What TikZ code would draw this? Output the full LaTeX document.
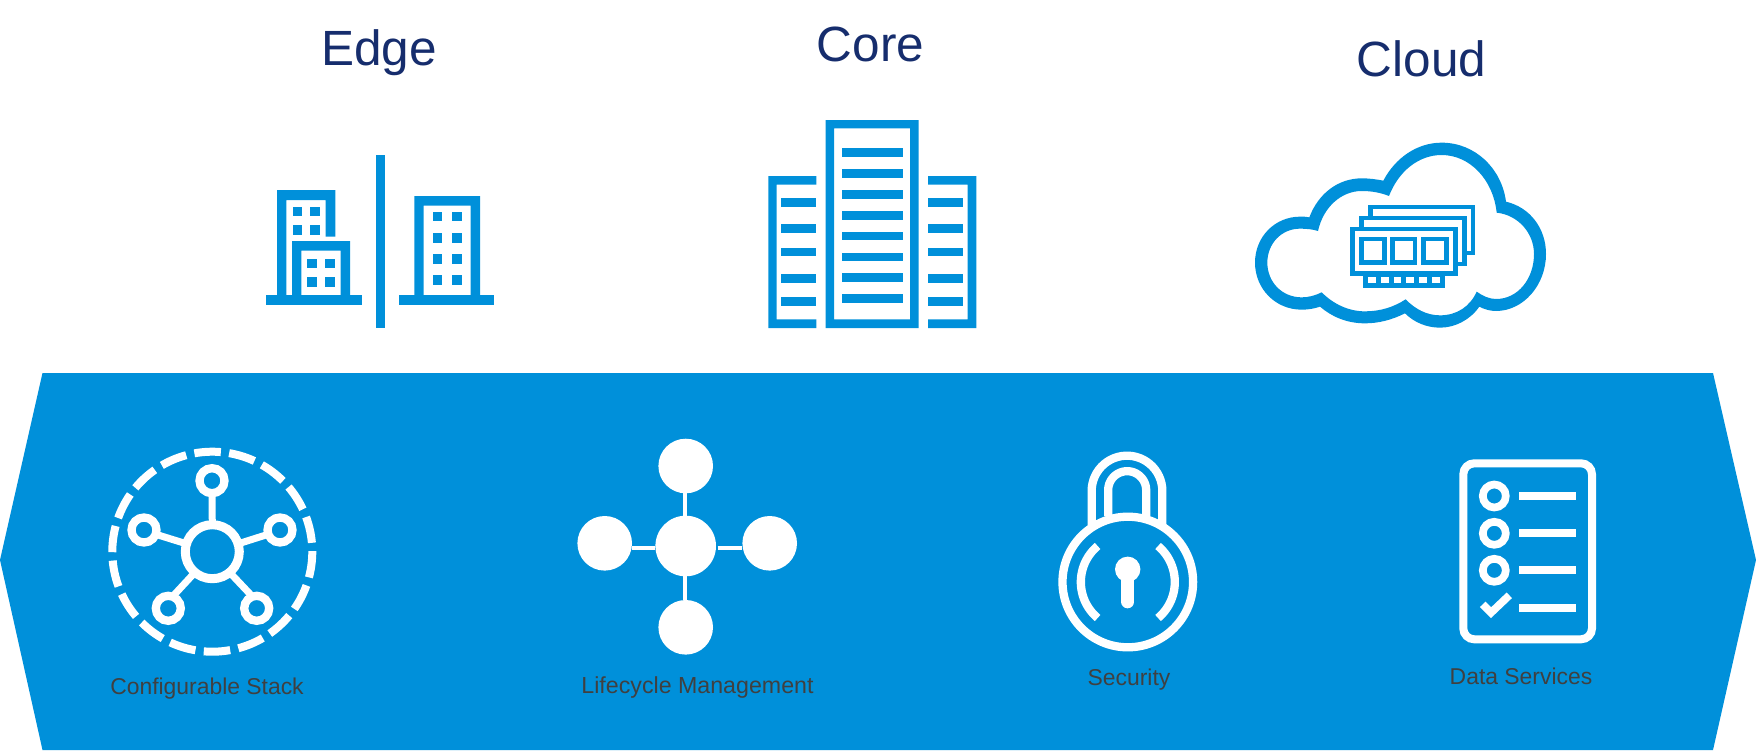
\documentclass[tikz,border=0pt]{standalone}
\usepackage{fontspec}
\setmainfont{Liberation Sans}
\definecolor{brand}{HTML}{0090DA}
\definecolor{titleblue}{HTML}{162D6D}
\definecolor{labelgray}{HTML}{404040}
\tikzset{
  title/.style={text=titleblue,font=\fontsize{49.5}{50}\selectfont,anchor=base,inner sep=0pt},
  label/.style={text=labelgray,font=\fontsize{22.9}{24}\selectfont,anchor=base,inner sep=0pt},
  ring/.style={circle,draw=white,line width=#1,inner sep=0pt,outer sep=0pt},
  disc/.style={circle,fill=white,inner sep=0pt,outer sep=0pt},
  wline/.style={draw=white,line width=#1}
}
\begin{document}
\begin{tikzpicture}[x=1pt,y=-1pt]
\useasboundingbox (0,0) rectangle (1756,752);
% band
\fill[brand] (42.5,373) -- (1713,373) -- (1756,560) -- (1713,750) -- (42.5,750) -- (0,560) -- cycle;
% titles
\node[title] (edge) at (379,66) {Edge};
\node[title] (core) at (870.5,62) {Core};
\node[title] (cloud) at (1421.5,76.5) {Cloud};
% edge icon
\begin{scope}[brand]
\fill[even odd rule,brand] (277,295) -- (277,190) -- (335.3,190) -- (335.3,236.7) -- (325.7,236.7) -- (325.7,200) -- (286.3,200) -- (286.3,295) -- cycle;
\foreach \xa/\xb in {292.7/302,310/319.7}{\foreach \ya/\yb in {206.7/216.3,225/234.7}{\fill[brand] (\xa,\ya) rectangle (\xb,\yb);}}
\fill[even odd rule,brand] (292,241) rectangle (350,300) (301.3,250.7) rectangle (340.7,295);
\foreach \xa/\xb in {307.3/316.7,325.3/335}{\foreach \ya/\yb in {259/268.3,277.3/286.7}{\fill[brand] (\xa,\ya) rectangle (\xb,\yb);}}
\fill[brand] (266,295) rectangle (361.7,305);
\fill[brand] (375.7,155) rectangle (385.3,328);
\fill[even odd rule,brand] (414.3,196) rectangle (480,300) (423.7,205.7) rectangle (470.7,295);
\foreach \xa/\xb in {432.7/442.3,452/461.7}{\foreach \ya/\yb in {211.7/221.3,233.3/242.7,254.3/263.7,275/284.7}{\fill[brand] (\xa,\ya) rectangle (\xb,\yb);}}
\fill[brand] (399.3,295) rectangle (494,305);
% core icon
\fill[even odd rule,brand] (825.7,120) rectangle (918.7,328) (834,128.3) rectangle (910,319.3);
\foreach \ya/\yb in {148.3/157,169/177.7,190.3/199,211/219.7,231.7/240.3,252.7/261.3,273.3/282,294/302.7}{\fill[brand] (842,\ya) rectangle (902.7,\yb);}
\fill[brand] (816.3,176) -- (768.3,176) -- (768.3,328) -- (816.3,328) -- (816.3,319.3) -- (776.7,319.3) -- (776.7,184.7) -- (816.3,184.7) -- cycle;
\fill[brand] (928,176) -- (976.3,176) -- (976.3,328) -- (928,328) -- (928,319.3) -- (967.7,319.3) -- (967.7,184.7) -- (928,184.7) -- cycle;
\foreach \ya/\yb in {198.3/207,224.3/233,247.7/256.3,274.3/283,297/305.7}{
  \fill[brand] (781.3,\ya) rectangle (816.3,\yb);
  \fill[brand] (928,\ya) rectangle (963,\yb);}
\end{scope}
% cloud icon
\begin{scope}[shift={(1240,130)},x=0.33333pt,y=-0.33333pt]
\fill[brand,even odd rule]
  (208,262) .. controls (235,190) and (295,145) .. (365,145) .. controls (388,145) and (410,148) .. (430,152)
  .. controls (465,85) and (530,38) .. (605,38) .. controls (705,38) and (785,115) .. (798,215)
  .. controls (870,232) and (918,295) .. (918,372) .. controls (918,465) and (850,543) .. (768,543) .. controls (750,543) and (733,538) .. (718,530)
  .. controls (690,570) and (645,593) .. (600,593) .. controls (560,593) and (522,577) .. (495,550)
  .. controls (455,570) and (415,580) .. (375,580) .. controls (320,580) and (275,560) .. (240,530)
  .. controls (222,536) and (205,539) .. (185,539) .. controls (105,539) and (45,475) .. (45,398) .. controls (45,320) and (105,260) .. (180,260) .. controls (190,260) and (200,260) .. (208,262)
  -- cycle
  (234,303) .. controls (250,230) and (305,183) .. (365,183) .. controls (395,183) and (422,188) .. (447,198)
  .. controls (475,125) and (535,75) .. (605,75) .. controls (690,75) and (760,150) .. (770,248)
  .. controls (835,255) and (882,310) .. (882,372) .. controls (882,445) and (835,507) .. (768,507) .. controls (748,507) and (728,498) .. (710,485)
  .. controls (690,530) and (650,556) .. (600,556) .. controls (560,556) and (525,537) .. (497,508)
  .. controls (460,532) and (420,544) .. (375,544) .. controls (325,544) and (280,522) .. (245,487)
  .. controls (225,497) and (205,502) .. (185,502) .. controls (125,502) and (82,455) .. (82,398) .. controls (82,340) and (125,296) .. (180,296) .. controls (200,296) and (218,298) .. (234,303)
  -- cycle;
\draw[brand,line width=4.5pt] (391,260) -- (391,231.5) -- (699.5,231.5) -- (699.5,368.5) -- (680,368.5);
\draw[brand,line width=4.5pt] (364.5,290) -- (364.5,264.5) -- (673,264.5) -- (673,401.5) -- (652,401.5);
\draw[brand,line width=4.5pt] (338,297) rectangle (646,431);
\foreach \xa/\xb in {365/433,458/525,551/619}{\draw[brand,line width=4.7pt] (\xa,327) rectangle (\xb,398);}
\fill[brand] (370,438) rectangle (614,473);
\foreach \xa/\xb in {385/408,423/446,461/484,499/522,537/560,575/600}{\fill[white] (\xa,440) rectangle (\xb,458);}
\end{scope}
% configurable stack icon
\foreach \k in {0,...,17}{
  \pgfmathsetmacro{\ang}{92.7-20*\k}
  \draw[white,line width=8pt,domain=\ang-7.6:\ang+7.6,samples=10,variable=\t] plot ({212.3+100*cos(\t)},{551.7-100*sin(\t)});
}
\node[ring=9pt,minimum size=54pt] (hub) at (212.3,551.7) {};
\node[ring=8.3pt,minimum size=25pt] (s1) at (212,480.7) {};
\node[ring=8.3pt,minimum size=25pt] (s2) at (144,530) {};
\node[ring=8.3pt,minimum size=25pt] (s3) at (280,530) {};
\node[ring=8.3pt,minimum size=25pt] (s4) at (168.3,608.3) {};
\node[ring=8.3pt,minimum size=25pt] (s5) at (256.7,608.3) {};
\draw[wline=7pt] (hub.north) -- (s1.south);
\draw[wline=7pt] (hub.163) -- (s2.-20);
\draw[wline=7pt] (hub.17) -- (s3.200);
\draw[wline=7pt] (hub.230) -- (s4.70);
\draw[wline=7pt] (hub.310) -- (s5.110);
\node[label] (lab1) at (207,694) {Configurable Stack};
% lifecycle icon
\node[disc,minimum size=60.6pt] (ctr) at (685.7,546) {};
\node[disc,minimum size=54.6pt] (lt) at (685.7,466) {};
\node[disc,minimum size=54.6pt] (lb) at (685.7,627.3) {};
\node[disc,minimum size=54.6pt] (ll) at (604.7,543.3) {};
\node[disc,minimum size=54.6pt] (lr) at (769.7,543.3) {};
\draw[wline=4pt] ([xshift=-.7pt]lt.south) -- ([xshift=-.7pt]ctr.north);
\draw[wline=4pt] ([xshift=-.7pt]ctr.south) -- ([xshift=-.7pt]lb.north);
\draw[wline=4pt] ([yshift=-1.7pt]ctr.west) -- ([yshift=-1.7pt]ctr.west -| ll.east);
\draw[wline=4pt] ([yshift=-1.7pt,xshift=1.7pt]ctr.east) -- ([yshift=-1.7pt]ctr.east -| lr.west);
\node[label,font=\fontsize{23.2}{24}\selectfont] (lab2) at (697.5,693) {Lifecycle Management};
% lock icon
\begin{scope}[shift={(1040,440)},x=0.33333pt,y=-0.33333pt]
\draw[wline=8.3pt] (155,255) -- (155,153) -- plot[domain=180:0,samples=30,variable=\t] ({261+106*cos(\t)},{153-106*sin(\t)}) -- (367,255);
\draw[wline=8.3pt] (204.5,228) -- (204.5,150.5) -- plot[domain=180:0,samples=30,variable=\t] ({261.5+57*cos(\t)},{150.5-57*sin(\t)}) -- (318.5,228);
\draw[wline=8.3pt,domain=130:230,samples=24,variable=\t] plot ({263.5+141*cos(\t)},{426-141*sin(\t)});
\draw[wline=8.3pt,domain=-50:50,samples=24,variable=\t] plot ({263.5+141*cos(\t)},{426-141*sin(\t)});
\end{scope}
\node[ring=8.3pt,minimum size=130.6pt] (lockbody) at (1127.8,582) {};
\node[disc,minimum size=25.4pt] (keyhole) at (1127.7,569.3) {};
\coordinate (keyend) at (1127.7,601.8);
\draw[wline=13pt,line cap=round] (keyhole.center) -- (keyend);
\node[label] (lab3) at (1129,685) {Security};
% data services icon
\draw[wline=8pt,rounded corners=11pt] (1463.3,463.3) rectangle (1592,639.3);
\foreach \n/\y in {a/496,b/533.3,c/570.3}{
  \node[ring=7.7pt,minimum size=23pt] (c\n) at (1494.3,\y) {};
  \draw[wline=7.7pt] (1519,\y) -- (1575.7,\y);
}
\draw[wline=7.7pt] (1519,608) -- (1575.7,608);
\draw[wline=7.7pt] (1482.7,604.3) -- (1491,612.7) -- (1509.3,595.3);
\node[label] (lab4) at (1521,684.5) {Data Services};
\end{tikzpicture}
\end{document}
